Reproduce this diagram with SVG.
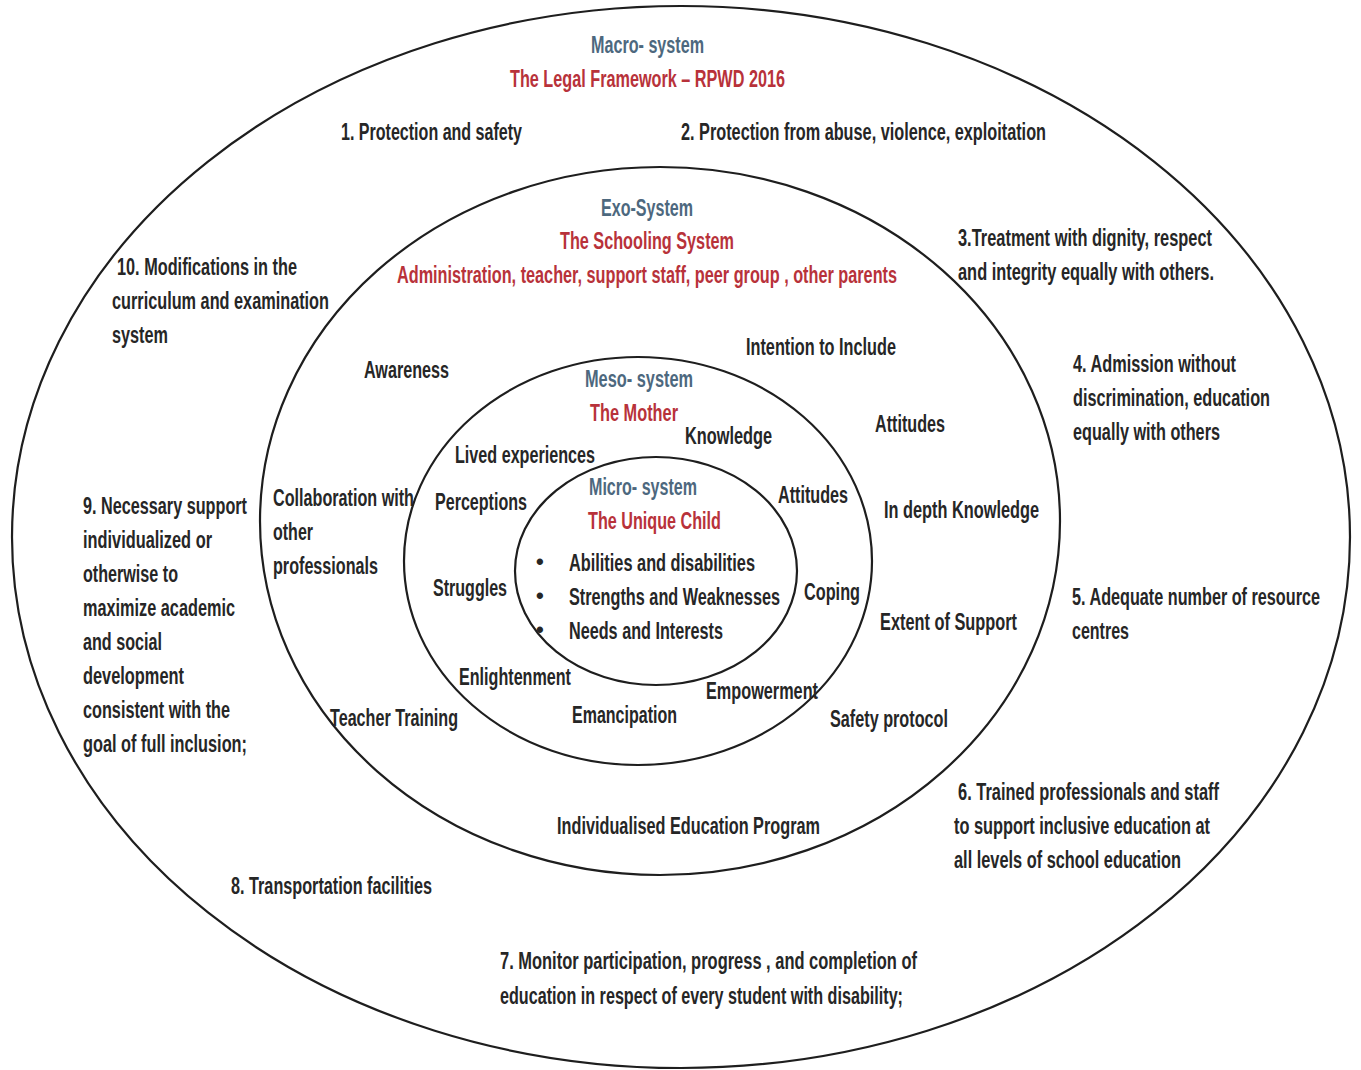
<svg xmlns="http://www.w3.org/2000/svg" width="1361" height="1070" viewBox="0 0 1361 1070">
  <style>
    .ring { fill: none; stroke: #1e1e1e; stroke-width: 2.2; }
    /* condensed lettering: small face stretched vertically by each label's matrix */
    text { font-family: "Liberation Sans", Arial, sans-serif; font-size: 15.5px; font-weight: bold; fill: #262626; }
    .lvl { fill: #4d687e; }
    .ctx { fill: #b8323a; }
    .dot { font-size: 22px; }
  </style>
  <rect width="1361" height="1070" fill="#ffffff"/>

  <!-- Macro-system: the legal framework -->
  <g id="macro-system">
    <ellipse class="ring" cx="681" cy="537" rx="669" ry="531"/>
    <text class="lvl" transform="matrix(1 0 0 1.5 591 53)" textLength="113" lengthAdjust="spacingAndGlyphs">Macro- system</text>
    <text class="ctx" transform="matrix(1 0 0 1.5 510 87)" textLength="275" lengthAdjust="spacingAndGlyphs">The Legal Framework – RPWD 2016</text>
    <text transform="matrix(1 0 0 1.5 341 140)" textLength="181" lengthAdjust="spacingAndGlyphs">1. Protection and safety</text>
    <text transform="matrix(1 0 0 1.5 681 140)" textLength="365" lengthAdjust="spacingAndGlyphs">2. Protection from abuse, violence, exploitation</text>
    <text transform="matrix(1 0 0 1.5 958 246)" textLength="254" lengthAdjust="spacingAndGlyphs">3.Treatment with dignity, respect</text>
    <text transform="matrix(1 0 0 1.5 958 280)" textLength="256" lengthAdjust="spacingAndGlyphs">and integrity equally with others.</text>
    <text transform="matrix(1 0 0 1.5 1073 372)" textLength="163" lengthAdjust="spacingAndGlyphs">4. Admission without</text>
    <text transform="matrix(1 0 0 1.5 1073 406)" textLength="197" lengthAdjust="spacingAndGlyphs">discrimination, education</text>
    <text transform="matrix(1 0 0 1.5 1073 440)" textLength="147" lengthAdjust="spacingAndGlyphs">equally with others</text>
    <text transform="matrix(1 0 0 1.5 1072 605)" textLength="248" lengthAdjust="spacingAndGlyphs">5. Adequate number of resource</text>
    <text transform="matrix(1 0 0 1.5 1072 639)" textLength="57" lengthAdjust="spacingAndGlyphs">centres</text>
    <text transform="matrix(1 0 0 1.5 958 800)" textLength="261" lengthAdjust="spacingAndGlyphs">6. Trained professionals and staff</text>
    <text transform="matrix(1 0 0 1.5 954 834)" textLength="256" lengthAdjust="spacingAndGlyphs">to support inclusive education at</text>
    <text transform="matrix(1 0 0 1.5 954 868)" textLength="227" lengthAdjust="spacingAndGlyphs">all levels of school education</text>
    <text transform="matrix(1 0 0 1.5 500 969)" textLength="417" lengthAdjust="spacingAndGlyphs">7. Monitor participation, progress ,  and completion of</text>
    <text transform="matrix(1 0 0 1.5 500 1004)" textLength="403" lengthAdjust="spacingAndGlyphs">education in respect of every student with disability;</text>
    <text transform="matrix(1 0 0 1.5 231 894)" textLength="201" lengthAdjust="spacingAndGlyphs">8. Transportation facilities</text>
    <text transform="matrix(1 0 0 1.5 83 514)" textLength="164" lengthAdjust="spacingAndGlyphs">9. Necessary support</text>
    <text transform="matrix(1 0 0 1.5 83 548)" textLength="129" lengthAdjust="spacingAndGlyphs">individualized or</text>
    <text transform="matrix(1 0 0 1.5 83 582)" textLength="95" lengthAdjust="spacingAndGlyphs">otherwise to</text>
    <text transform="matrix(1 0 0 1.5 83 616)" textLength="152" lengthAdjust="spacingAndGlyphs">maximize academic</text>
    <text transform="matrix(1 0 0 1.5 83 650)" textLength="79" lengthAdjust="spacingAndGlyphs">and social</text>
    <text transform="matrix(1 0 0 1.5 83 684)" textLength="101" lengthAdjust="spacingAndGlyphs">development</text>
    <text transform="matrix(1 0 0 1.5 83 718)" textLength="147" lengthAdjust="spacingAndGlyphs">consistent with the</text>
    <text transform="matrix(1 0 0 1.5 83 752)" textLength="164" lengthAdjust="spacingAndGlyphs">goal of full inclusion;</text>
    <text transform="matrix(1 0 0 1.5 117 275)" textLength="180" lengthAdjust="spacingAndGlyphs">10. Modifications in the</text>
    <text transform="matrix(1 0 0 1.5 112 309)" textLength="217" lengthAdjust="spacingAndGlyphs">curriculum and examination</text>
    <text transform="matrix(1 0 0 1.5 112 343)" textLength="56" lengthAdjust="spacingAndGlyphs">system</text>
  </g>

  <!-- Exo-system: the schooling system -->
  <g id="exo-system">
    <ellipse class="ring" cx="660" cy="521" rx="400" ry="354"/>
    <text class="lvl" transform="matrix(1 0 0 1.5 601 216)" textLength="92" lengthAdjust="spacingAndGlyphs">Exo-System</text>
    <text class="ctx" transform="matrix(1 0 0 1.5 560 249)" textLength="174" lengthAdjust="spacingAndGlyphs">The Schooling System</text>
    <text class="ctx" transform="matrix(1 0 0 1.5 397 283)" textLength="500" lengthAdjust="spacingAndGlyphs">Administration, teacher, support staff, peer group , other parents</text>
    <text transform="matrix(1 0 0 1.5 746 355)" textLength="150" lengthAdjust="spacingAndGlyphs">Intention to Include</text>
    <text transform="matrix(1 0 0 1.5 364 378)" textLength="85" lengthAdjust="spacingAndGlyphs">Awareness</text>
    <text transform="matrix(1 0 0 1.5 875 432)" textLength="70" lengthAdjust="spacingAndGlyphs">Attitudes</text>
    <text transform="matrix(1 0 0 1.5 884 518)" textLength="155" lengthAdjust="spacingAndGlyphs">In depth Knowledge</text>
    <text transform="matrix(1 0 0 1.5 273 506)" textLength="141" lengthAdjust="spacingAndGlyphs">Collaboration with</text>
    <text transform="matrix(1 0 0 1.5 273 540)" textLength="40" lengthAdjust="spacingAndGlyphs">other</text>
    <text transform="matrix(1 0 0 1.5 273 574)" textLength="105" lengthAdjust="spacingAndGlyphs">professionals</text>
    <text transform="matrix(1 0 0 1.5 880 630)" textLength="137" lengthAdjust="spacingAndGlyphs">Extent of Support</text>
    <text transform="matrix(1 0 0 1.5 330 726)" textLength="128" lengthAdjust="spacingAndGlyphs">Teacher Training</text>
    <text transform="matrix(1 0 0 1.5 830 727)" textLength="118" lengthAdjust="spacingAndGlyphs">Safety protocol</text>
    <text transform="matrix(1 0 0 1.5 557 834)" textLength="263" lengthAdjust="spacingAndGlyphs">Individualised Education Program</text>
  </g>

  <!-- Meso-system: the mother -->
  <g id="meso-system">
    <ellipse class="ring" cx="638" cy="561" rx="234" ry="204"/>
    <text class="lvl" transform="matrix(1 0 0 1.5 585 387)" textLength="108" lengthAdjust="spacingAndGlyphs">Meso- system</text>
    <text class="ctx" transform="matrix(1 0 0 1.5 590 421)" textLength="88" lengthAdjust="spacingAndGlyphs">The Mother</text>
    <text transform="matrix(1 0 0 1.5 685 444)" textLength="87" lengthAdjust="spacingAndGlyphs">Knowledge</text>
    <text transform="matrix(1 0 0 1.5 455 463)" textLength="140" lengthAdjust="spacingAndGlyphs">Lived experiences</text>
    <text transform="matrix(1 0 0 1.5 778 503)" textLength="70" lengthAdjust="spacingAndGlyphs">Attitudes</text>
    <text transform="matrix(1 0 0 1.5 435 510)" textLength="92" lengthAdjust="spacingAndGlyphs">Perceptions</text>
    <text transform="matrix(1 0 0 1.5 433 596)" textLength="74" lengthAdjust="spacingAndGlyphs">Struggles</text>
    <text transform="matrix(1 0 0 1.5 804 600)" textLength="56" lengthAdjust="spacingAndGlyphs">Coping</text>
    <text transform="matrix(1 0 0 1.5 459 685)" textLength="112" lengthAdjust="spacingAndGlyphs">Enlightenment</text>
    <text transform="matrix(1 0 0 1.5 706 699)" textLength="112" lengthAdjust="spacingAndGlyphs">Empowerment</text>
    <text transform="matrix(1 0 0 1.5 572 723)" textLength="105" lengthAdjust="spacingAndGlyphs">Emancipation</text>
  </g>

  <!-- Micro-system: the unique child -->
  <g id="micro-system">
    <ellipse class="ring" cx="656" cy="571" rx="141" ry="114"/>
    <text class="lvl" transform="matrix(1 0 0 1.5 589 495)" textLength="108" lengthAdjust="spacingAndGlyphs">Micro- system</text>
    <text class="ctx" transform="matrix(1 0 0 1.5 588 529)" textLength="133" lengthAdjust="spacingAndGlyphs">The Unique Child</text>
    <text class="dot" x="536" y="569">•</text>
    <text transform="matrix(1 0 0 1.5 569 571)" textLength="186" lengthAdjust="spacingAndGlyphs">Abilities and disabilities</text>
    <text class="dot" x="536" y="603">•</text>
    <text transform="matrix(1 0 0 1.5 569 605)" textLength="211" lengthAdjust="spacingAndGlyphs">Strengths and Weaknesses</text>
    <text class="dot" x="536" y="637">•</text>
    <text transform="matrix(1 0 0 1.5 569 639)" textLength="154" lengthAdjust="spacingAndGlyphs">Needs and Interests</text>
  </g>
</svg>
